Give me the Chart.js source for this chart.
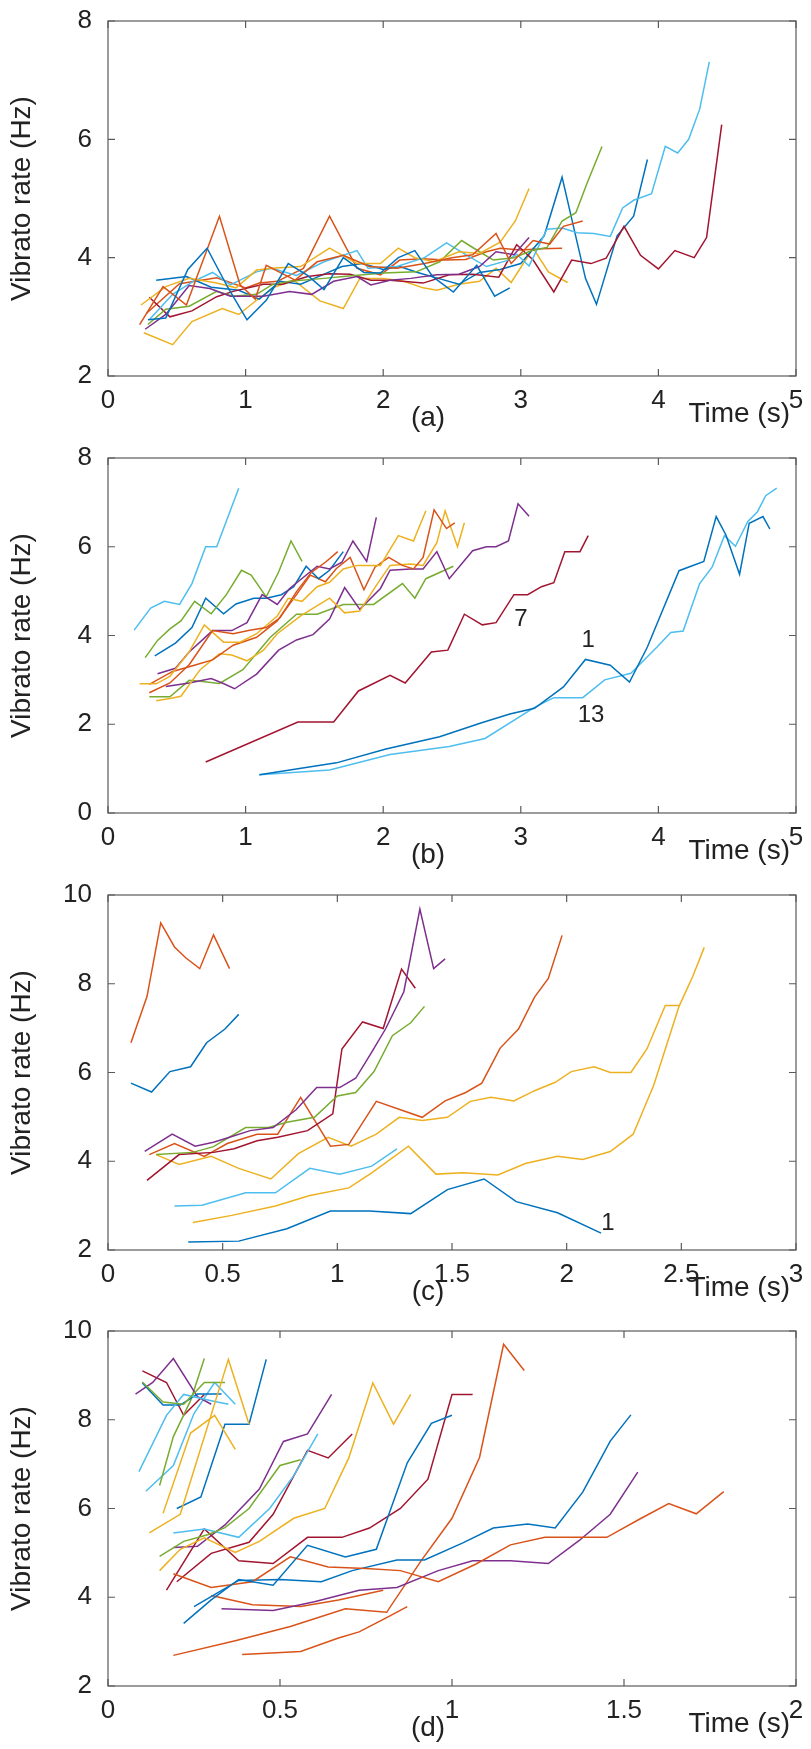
<!DOCTYPE html>
<html>
<head>
<meta charset="utf-8">
<script src="https://cdn.jsdelivr.net/npm/chart.js@4.4.0/dist/chart.umd.min.js"></script>
<style>
  body { margin: 0; background: #fff; width: 811px; height: 1749px; overflow: hidden; }
  .panel { position: absolute; left: 0; width: 811px; height: 437px; }
</style>
</head>
<body>
<div class="panel" style="top:0px"><canvas id="chartA"></canvas></div>
<div class="panel" style="top:437px"><canvas id="chartB"></canvas></div>
<div class="panel" style="top:874px"><canvas id="chartC"></canvas></div>
<div class="panel" style="top:1310px"><canvas id="chartD"></canvas></div>
<script>
// ---- tick values ----
const xTicksAB = [0, 1, 2, 3, 4, 5]
const yTicksA = [2, 4, 6, 8]
const yTicksB = [0, 2, 4, 6, 8]
const xTicksC = [0, 0.5, 1, 1.5, 2, 2.5, 3]
const yTicksCD = [2, 4, 6, 8, 10]
const xTicksD = [0, 0.5, 1, 1.5, 2]
const panelLabels = ['(a)', '(b)', '(c)', '(d)']

// ---- panel (a): [time s, vibrato rate Hz] ----
const a1 = [[0.29,2.95],[0.42,2.98],[0.58,3.8],[0.72,4.16],[0.87,3.5],[1.01,2.95],[1.15,3.28],[1.31,3.9],[1.45,3.7],[1.57,3.46],[1.71,4.0],[1.86,3.75],[1.98,3.74],[2.11,4.0],[2.23,4.12],[2.36,3.68],[2.51,3.42],[2.68,3.87],[2.81,3.35],[2.92,3.49]]
const a2 = [[0.23,2.87],[0.40,3.51],[0.57,3.2],[0.81,4.7],[0.96,3.54],[1.07,3.3],[1.15,3.87],[1.36,3.62],[1.52,3.93],[1.71,4.04],[1.9,3.85],[2.1,3.82],[2.3,3.9],[2.5,4.0],[2.65,4.05],[2.82,4.41],[2.93,3.9],[3.09,4.29],[3.21,4.23],[3.31,4.53],[3.45,4.62]]
const a3 = [[0.24,3.2],[0.42,3.51],[0.59,3.65],[0.79,3.57],[0.93,3.49],[1.08,3.79],[1.19,3.82],[1.4,3.85],[1.61,4.16],[1.81,3.9],[1.98,3.9],[2.11,4.16],[2.23,4.0],[2.37,3.93],[2.55,4.1],[2.70,4.07],[2.85,4.26],[2.96,4.62],[3.06,5.17]]
const a4 = [[0.27,2.79],[0.42,3.04],[0.59,3.53],[0.74,3.48],[0.89,3.35],[1.13,3.35],[1.32,3.43],[1.48,3.38],[1.64,3.6],[1.81,3.68],[1.91,3.54],[2.05,3.62],[2.2,3.65],[2.39,3.71],[2.55,3.72],[2.7,3.85],[2.82,4.1],[2.95,4.05],[3.06,4.34]]
const a5 = [[0.29,2.87],[0.42,3.13],[0.59,3.18],[0.79,3.43],[0.91,3.35],[1.08,3.38],[1.19,3.54],[1.32,3.6],[1.57,3.65],[1.71,3.68],[2.0,3.74],[2.24,3.76],[2.41,3.93],[2.57,4.29],[2.7,4.1],[2.8,3.96],[2.95,4.0],[3.08,4.12],[3.19,4.17],[3.30,4.62],[3.40,4.76],[3.48,5.25],[3.59,5.88]]
const a6 = [[0.3,2.95],[0.47,3.38],[0.62,3.6],[0.76,3.75],[0.89,3.54],[1.08,3.76],[1.19,3.82],[1.37,3.7],[1.57,3.93],[1.81,4.12],[1.89,3.82],[2.1,3.85],[2.3,4.0],[2.46,4.25],[2.6,4.05],[2.75,3.85],[2.9,3.95],[2.97,4.06],[3.06,3.86],[3.19,4.48],[3.30,4.5],[3.41,4.42],[3.53,4.41],[3.65,4.36],[3.74,4.84],[3.82,4.97],[3.95,5.08],[4.05,5.88],[4.14,5.77],[4.22,6.0],[4.30,6.51],[4.37,7.31]]
const a7 = [[0.30,3.33],[0.45,3.0],[0.61,3.1],[0.79,3.34],[0.91,3.43],[1.13,3.55],[1.27,3.55],[1.45,3.68],[1.61,3.73],[1.76,3.72],[1.91,3.62],[2.05,3.62],[2.29,3.57],[2.48,3.71],[2.65,3.72],[2.84,3.67],[2.97,4.22],[3.09,3.96],[3.24,3.42],[3.37,3.96],[3.51,3.9],[3.62,3.99],[3.75,4.53],[3.87,4.04],[4.0,3.81],[4.12,4.12],[4.26,4.0],[4.35,4.34],[4.46,6.25]]
const a8 = [[0.35,3.62],[0.57,3.68],[0.75,3.5],[0.95,3.45],[1.1,3.3],[1.25,3.6],[1.4,3.55],[1.55,3.7],[1.7,3.85],[1.85,3.9],[2.0,3.8],[2.12,3.85],[2.25,3.75],[2.4,3.65],[2.55,3.55],[2.7,3.75],[2.85,3.8],[3.0,3.9],[3.17,4.37],[3.3,5.36],[3.47,3.65],[3.55,3.21],[3.7,4.37],[3.82,4.7],[3.92,5.66]]
const a9 = [[0.28,3.06],[0.52,3.56],[0.79,3.66],[1.0,3.49],[1.1,3.57],[1.23,3.6],[1.42,3.82],[1.61,4.7],[1.81,3.82],[1.98,3.71],[2.12,3.96],[2.29,3.98],[2.45,3.96],[2.6,3.97],[2.75,4.1],[2.85,4.16],[3.0,4.13],[3.15,4.15],[3.30,4.16]]
const a10 = [[0.26,2.73],[0.47,2.53],[0.61,2.92],[0.83,3.14],[0.95,3.04],[1.08,3.28],[1.21,3.5],[1.35,3.62],[1.54,3.27],[1.71,3.14],[1.83,3.65],[2.0,3.65],[2.15,3.6],[2.29,3.49],[2.39,3.45],[2.55,3.55],[2.7,3.6],[2.82,3.82],[2.93,3.58],[3.09,4.16],[3.20,3.76],[3.34,3.58]]
const linesA = [a1, a2, a3, a4, a5, a6, a7, a8, a9, a10]
const colorsA = [0, 1, 2, 3, 4, 5, 6, 0, 1, 2]

// ---- panel (b) ----
const b1 = [[1.10,0.86],[1.66,1.13],[2.02,1.44],[2.41,1.72],[2.71,2.03],[2.92,2.23],[3.10,2.36],[3.31,2.84],[3.47,3.46],[3.65,3.33],[3.79,2.95],[3.92,3.74],[4.15,5.46],[4.33,5.67],[4.42,6.68],[4.49,6.27],[4.59,5.38],[4.66,6.53],[4.76,6.68],[4.81,6.4]]
const b2 = [[0.30,2.71],[0.45,2.93],[0.59,3.34],[0.76,4.11],[0.91,4.04],[1.03,4.12],[1.15,4.18],[1.25,4.4],[1.37,4.99],[1.48,5.43],[1.58,5.65],[1.67,5.89]]
const b3 = [[0.23,2.91],[0.35,2.91],[0.45,3.08],[0.59,3.63],[0.70,4.24],[0.84,3.85],[0.96,3.85],[1.08,4.04],[1.23,4.44],[1.31,4.84],[1.41,4.77],[1.52,5.1],[1.61,5.2],[1.71,5.5],[1.81,5.58],[1.98,5.58],[2.11,6.25],[2.22,6.13],[2.31,6.81]]
const b4 = [[0.36,3.14],[0.49,3.26],[0.59,3.63],[0.76,4.11],[0.90,4.11],[1.01,4.29],[1.12,4.92],[1.23,4.7],[1.32,5.06],[1.52,5.56],[1.61,5.5],[1.7,5.65],[1.78,6.13],[1.88,5.67],[1.95,6.66]]
const b5 = [[0.27,3.5],[0.36,3.89],[0.45,4.15],[0.53,4.33],[0.63,4.77],[0.75,4.49],[0.86,4.92],[0.97,5.47],[1.04,5.36],[1.15,4.87],[1.24,5.43],[1.33,6.13],[1.41,5.67]]
const b6 = [[0.19,4.12],[0.31,4.62],[0.41,4.77],[0.52,4.70],[0.61,5.17],[0.71,6.0],[0.79,6.0],[0.95,7.32]]
const b7 = [[0.71,1.15],[1.38,2.05],[1.64,2.05],[1.82,2.75],[2.05,3.1],[2.16,2.93],[2.35,3.63],[2.47,3.67],[2.59,4.48],[2.72,4.24],[2.82,4.29],[2.95,4.92],[3.05,4.92],[3.15,5.1],[3.24,5.19],[3.32,5.89],[3.43,5.89],[3.49,6.25]]
const b8 = [[0.34,3.54],[0.49,3.83],[0.61,4.18],[0.71,4.84],[0.84,4.49],[0.93,4.71],[1.06,4.84],[1.15,4.84],[1.26,4.92],[1.35,5.1],[1.44,5.56],[1.53,5.28],[1.61,5.47],[1.71,5.89]]
const b9 = [[0.30,2.9],[0.47,3.19],[0.64,3.34],[0.76,3.45],[0.91,3.78],[1.08,3.96],[1.23,4.33],[1.37,4.92],[1.47,5.36],[1.58,5.21],[1.66,5.51],[1.76,5.76],[1.86,5.03],[1.94,5.54],[2.04,5.76],[2.14,5.58],[2.22,5.5],[2.29,5.76],[2.37,6.83],[2.46,6.41],[2.52,6.54]]
const b10 = [[0.35,2.53],[0.45,2.58],[0.53,2.63],[0.67,3.23],[0.81,3.59],[0.9,3.56],[1.01,3.43],[1.13,3.67],[1.23,4.04],[1.4,4.44],[1.61,4.84],[1.72,4.51],[1.83,4.55],[1.95,5.13],[2.05,5.58],[2.2,5.61],[2.29,5.58],[2.39,6.09],[2.45,6.81],[2.54,6.0],[2.59,6.54]]
const b11 = [[0.42,2.85],[0.59,2.93],[0.75,3.03],[0.83,2.93],[0.92,2.8],[1.08,3.13],[1.24,3.67],[1.37,3.9],[1.49,4.02],[1.61,4.37],[1.72,5.08],[1.83,4.59],[1.98,5.06],[2.05,5.47],[2.2,5.5],[2.29,5.5],[2.39,5.89],[2.48,5.28],[2.65,5.91],[2.75,6.0],[2.82,6.0],[2.91,6.13],[2.98,6.97],[3.06,6.69]]
const b12 = [[0.30,2.62],[0.45,2.62],[0.59,2.99],[0.67,2.97],[0.81,2.92],[0.98,3.23],[1.18,3.96],[1.37,4.48],[1.52,4.48],[1.71,4.7],[1.93,4.7],[2.14,5.17],[2.23,4.84],[2.31,5.28],[2.51,5.56]]
const b13 = [[1.10,0.86],[1.61,0.97],[2.05,1.32],[2.48,1.5],[2.74,1.68],[3.1,2.38],[3.24,2.6],[3.45,2.6],[3.61,3.0],[3.80,3.15],[3.99,3.74],[4.09,4.07],[4.18,4.1],[4.30,5.17],[4.39,5.54],[4.48,6.25],[4.56,6.01],[4.65,6.57],[4.72,6.79],[4.78,7.15],[4.86,7.32]]
const linesB = [b1, b2, b3, b4, b5, b6, b7, b8, b9, b10, b11, b12, b13]
const colorsB = [0, 1, 2, 3, 4, 5, 6, 0, 1, 2, 3, 4, 5]
const notesB = [['7', 3.0, 4.37], ['1', 3.49, 3.89], ['13', 3.51, 2.2]]

// ---- panel (c) ----
const c1 = [[0.35,2.18],[0.57,2.2],[0.78,2.48],[0.97,2.88],[1.14,2.88],[1.32,2.82],[1.48,3.36],[1.64,3.6],[1.78,3.09],[1.96,2.84],[2.15,2.38]]
const c2 = [[0.10,6.67],[0.17,7.71],[0.23,9.37],[0.29,8.83],[0.34,8.58],[0.40,8.34],[0.46,9.1],[0.53,8.34]]
const c3 = [[0.37,2.62],[0.54,2.78],[0.73,2.99],[0.88,3.23],[1.05,3.4],[1.15,3.74],[1.31,4.34],[1.43,3.71],[1.55,3.74],[1.70,3.69],[1.82,3.95],[1.96,4.11],[2.07,4.04],[2.19,4.22],[2.29,4.61],[2.38,5.72],[2.49,7.49],[2.55,8.17],[2.6,8.82]]
const c4 = [[0.16,4.22],[0.28,4.61],[0.38,4.34],[0.46,4.43],[0.53,4.54],[0.62,4.69],[0.72,4.76],[0.82,5.16],[0.91,5.66],[1.01,5.66],[1.08,5.87],[1.15,6.46],[1.21,6.98],[1.29,7.82],[1.36,9.68],[1.42,8.34],[1.47,8.56]]
const c5 = [[0.21,4.15],[0.37,4.2],[0.46,4.33],[0.6,4.76],[0.7,4.76],[0.78,4.88],[0.9,4.99],[1.0,5.47],[1.08,5.55],[1.16,6.02],[1.24,6.83],[1.32,7.12],[1.38,7.49]]
const c6 = [[0.29,2.99],[0.41,3.01],[0.6,3.29],[0.73,3.29],[0.88,3.84],[1.01,3.71],[1.15,3.89],[1.26,4.28]]
const c7 = [[0.17,3.57],[0.31,4.15],[0.46,4.2],[0.55,4.28],[0.65,4.46],[0.74,4.54],[0.87,4.69],[0.98,5.07],[1.02,6.53],[1.11,7.14],[1.2,6.99],[1.28,8.33],[1.34,7.9]]
const c8 = [[0.10,5.76],[0.19,5.56],[0.27,6.02],[0.36,6.13],[0.43,6.67],[0.51,6.98],[0.57,7.31]]
const c9 = [[0.18,4.15],[0.29,4.4],[0.42,4.11],[0.52,4.4],[0.65,4.61],[0.74,4.61],[0.84,5.44],[0.97,4.34],[1.05,4.38],[1.17,5.35],[1.37,4.99],[1.47,5.36],[1.56,5.55],[1.63,5.76],[1.71,6.55],[1.79,6.98],[1.86,7.7],[1.92,8.12],[1.98,9.09]]
const c10 = [[0.21,4.15],[0.31,3.93],[0.45,4.11],[0.57,3.84],[0.71,3.6],[0.83,4.17],[0.96,4.54],[1.06,4.34],[1.17,4.61],[1.27,4.99],[1.37,4.92],[1.48,4.99],[1.58,5.35],[1.67,5.44],[1.77,5.36],[1.86,5.59],[1.95,5.78],[2.02,6.02],[2.12,6.13],[2.19,6.0],[2.28,6.0],[2.35,6.53],[2.43,7.51],[2.49,7.51]]
const linesC = [c1, c2, c3, c4, c5, c6, c7, c8, c9, c10]
const colorsC = [0, 1, 2, 3, 4, 5, 6, 0, 1, 2]
const notesC = [['1', 2.18, 2.6]]

// ---- panel (d) ----
const d1 = [[0.22,3.41],[0.3,3.94],[0.38,4.4],[0.48,4.27],[0.58,5.17],[0.69,4.91],[0.78,5.08],[0.87,7.03],[0.94,7.92],[1.0,8.1]]
const d2 = [[0.19,4.53],[0.30,4.22],[0.42,4.35],[0.53,4.91],[0.64,4.68],[0.75,4.65],[0.85,4.6],[0.96,4.35],[1.07,4.75],[1.17,5.18],[1.27,5.35],[1.45,5.35],[1.55,5.78],[1.63,6.11],[1.71,5.88],[1.79,6.38]]
const d3 = [[0.15,4.6],[0.21,5.08],[0.28,5.34],[0.37,5.01],[0.44,5.26],[0.54,5.78],[0.63,6.0],[0.70,7.14],[0.77,8.83],[0.83,7.9],[0.88,8.57]]
const d4 = [[0.33,3.74],[0.48,3.7],[0.60,3.9],[0.73,4.16],[0.84,4.22],[0.96,4.6],[1.06,4.82],[1.17,4.82],[1.28,4.76],[1.37,5.28],[1.46,5.87],[1.54,6.82]]
const d5 = [[0.15,4.92],[0.22,5.26],[0.29,5.41],[0.34,5.57],[0.41,6.0],[0.5,6.97],[0.56,7.1]]
const d6 = [[0.19,5.45],[0.28,5.54],[0.38,5.35],[0.47,6.0],[0.54,6.74],[0.61,7.68]]
const d7 = [[0.17,4.16],[0.28,5.54],[0.38,4.82],[0.48,4.76],[0.58,5.35],[0.68,5.35],[0.76,5.56],[0.85,6.0],[0.93,6.66],[1.0,8.57],[1.06,8.57]]
const d8 = [[0.25,3.79],[0.38,4.38],[0.5,4.4],[0.62,4.35],[0.71,4.6],[0.84,4.84],[0.92,4.84],[1.03,5.22],[1.12,5.56],[1.22,5.65],[1.3,5.56],[1.38,6.37],[1.46,7.52],[1.52,8.11]]
const d9 = [[0.19,2.69],[0.37,3.02],[0.53,3.34],[0.69,3.74],[0.81,3.66],[0.91,4.82],[1.0,5.78],[1.08,7.15],[1.15,9.7],[1.21,9.11]]
const d10 = [[0.12,5.45],[0.21,5.87],[0.35,9.36],[0.41,7.9]]
const d11 = [[0.19,5.12],[0.26,5.15],[0.34,5.63],[0.44,6.44],[0.51,7.51],[0.58,7.68],[0.65,8.57]]
const d12 = [[0.10,8.85],[0.16,8.4],[0.22,8.35],[0.28,8.84],[0.34,8.84]]
const d13 = [[0.09,6.83],[0.17,8.1],[0.22,8.57],[0.30,8.43],[0.35,8.35]]
const d14 = [[0.2,4.35],[0.3,4.99],[0.41,5.24],[0.48,5.87],[0.58,7.31],[0.64,7.14],[0.71,7.68]]
const d15 = [[0.10,8.83],[0.16,8.33],[0.21,8.33],[0.26,8.58],[0.33,8.58]]
const d16 = [[0.3,4.04],[0.42,3.83],[0.56,3.79],[0.67,3.94],[0.8,4.16]]
const d17 = [[0.16,5.89],[0.24,7.7],[0.31,8.1],[0.37,7.33]]
const d18 = [[0.08,8.58],[0.13,8.84],[0.19,9.38],[0.26,8.52],[0.30,8.35]]
const d19 = [[0.15,6.52],[0.19,7.62],[0.24,8.43],[0.28,9.38]]
const d20 = [[0.11,6.39],[0.19,6.97],[0.25,8.14],[0.31,8.84],[0.37,8.35]]
const d21 = [[0.10,9.1],[0.17,8.84],[0.22,8.1],[0.28,8.57]]
const d22 = [[0.2,6.0],[0.27,6.26],[0.34,7.9],[0.41,7.9],[0.46,9.36]]
const d23 = [[0.39,2.71],[0.56,2.78],[0.67,3.08],[0.73,3.22],[0.81,3.54],[0.87,3.79]]
const linesD = [d1, d2, d3, d4, d5, d6, d7, d8, d9, d10, d11, d12, d13, d14, d15, d16, d17, d18, d19, d20, d21, d22, d23]
const colorsD = [0, 1, 2, 3, 4, 5, 6, 0, 1, 2, 3, 4, 5, 6, 0, 1, 2, 3, 4, 5, 6, 0, 1]

// ---- styling ----
const PALETTE = ['#0072BD', '#D95319', '#EDB120', '#7E2F8E', '#77AC30', '#4DBEEE', '#A2142F']
const FONT = "'Liberation Sans', Arial, sans-serif"
const TEXT = '#222'

const framePlugin = {
  id: 'frame',
  afterDatasetsDraw(chart, args, opts) {
    const { ctx, chartArea: { left, right, top, bottom }, scales: { x, y } } = chart
    ctx.save()
    ctx.strokeStyle = '#5a5a5a'
    ctx.lineWidth = 1.2
    ctx.strokeRect(left, top, right - left, bottom - top)
    ctx.beginPath()
    x.ticks.forEach(t => {
      const px = x.getPixelForValue(t.value)
      ctx.moveTo(px, bottom); ctx.lineTo(px, bottom - 7)
      ctx.moveTo(px, top); ctx.lineTo(px, top + 7)
    })
    y.ticks.forEach(t => {
      const py = y.getPixelForValue(t.value)
      ctx.moveTo(left, py); ctx.lineTo(left + 7, py)
      ctx.moveTo(right, py); ctx.lineTo(right - 7, py)
    })
    ctx.stroke()

    // notes on lines
    ctx.fillStyle = TEXT
    ctx.font = '24px ' + FONT
    ctx.textAlign = 'center'
    ctx.textBaseline = 'middle'
    ;(opts.notes || []).forEach(([txt, tx, ty]) => {
      ctx.fillText(txt, x.getPixelForValue(tx), y.getPixelForValue(ty))
    })

    // axis titles and panel label
    ctx.font = '28px ' + FONT
    ctx.textAlign = 'right'
    ctx.fillText('Time (s)', right - 6, bottom + 38)
    ctx.textAlign = 'center'
    ctx.fillText(opts.label, 428, bottom + 42)
    ctx.translate(22, (top + bottom) / 2)
    ctx.rotate(-Math.PI / 2)
    ctx.fillText('Vibrato rate (Hz)', 0, 0)
    ctx.restore()
  }
}

function makePanel(id, lines, colors, xTicks, yTicks, label, notes) {
  const ctx = document.getElementById(id)
  return new Chart(ctx, {
    type: 'line',
    data: {
      datasets: lines.map((pts, i) => ({
        data: pts.map(p => ({ x: p[0], y: p[1] })),
        borderColor: PALETTE[colors[i]],
        borderWidth: 1.5,
        pointRadius: 0,
        tension: 0,
        fill: false
      }))
    },
    options: {
      responsive: true,
      maintainAspectRatio: false,
      animation: false,
      layout: { padding: { top: 13, right: 15, left: 0, bottom: 0 } },
      plugins: {
        legend: { display: false },
        tooltip: { enabled: false },
        frame: { label: label, notes: notes }
      },
      scales: {
        x: {
          type: 'linear',
          min: xTicks[0],
          max: xTicks[xTicks.length - 1],
          afterBuildTicks: s => { s.ticks = xTicks.map(v => ({ value: v })) },
          afterFit: s => { s.height = 61 },
          grid: { display: false },
          border: { display: false },
          ticks: {
            color: TEXT,
            padding: 4,
            maxRotation: 0,
            autoSkip: false,
            font: { family: FONT, size: 26, lineHeight: 1 },
            callback: v => String(v)
          }
        },
        y: {
          type: 'linear',
          min: yTicks[0],
          max: yTicks[yTicks.length - 1],
          afterBuildTicks: s => { s.ticks = yTicks.map(v => ({ value: v })) },
          afterFit: s => { s.width = 108 },
          grid: { display: false },
          border: { display: false },
          ticks: {
            color: TEXT,
            padding: 8,
            autoSkip: false,
            font: { family: FONT, size: 26, lineHeight: 1 },
            callback: v => String(v)
          }
        }
      }
    },
    plugins: [framePlugin]
  })
}

makePanel('chartA', linesA, colorsA, xTicksAB, yTicksA, panelLabels[0], [])
makePanel('chartB', linesB, colorsB, xTicksAB, yTicksB, panelLabels[1], notesB)
makePanel('chartC', linesC, colorsC, xTicksC, yTicksCD, panelLabels[2], notesC)
makePanel('chartD', linesD, colorsD, xTicksD, yTicksCD, panelLabels[3], [])
</script>
</body>
</html>
